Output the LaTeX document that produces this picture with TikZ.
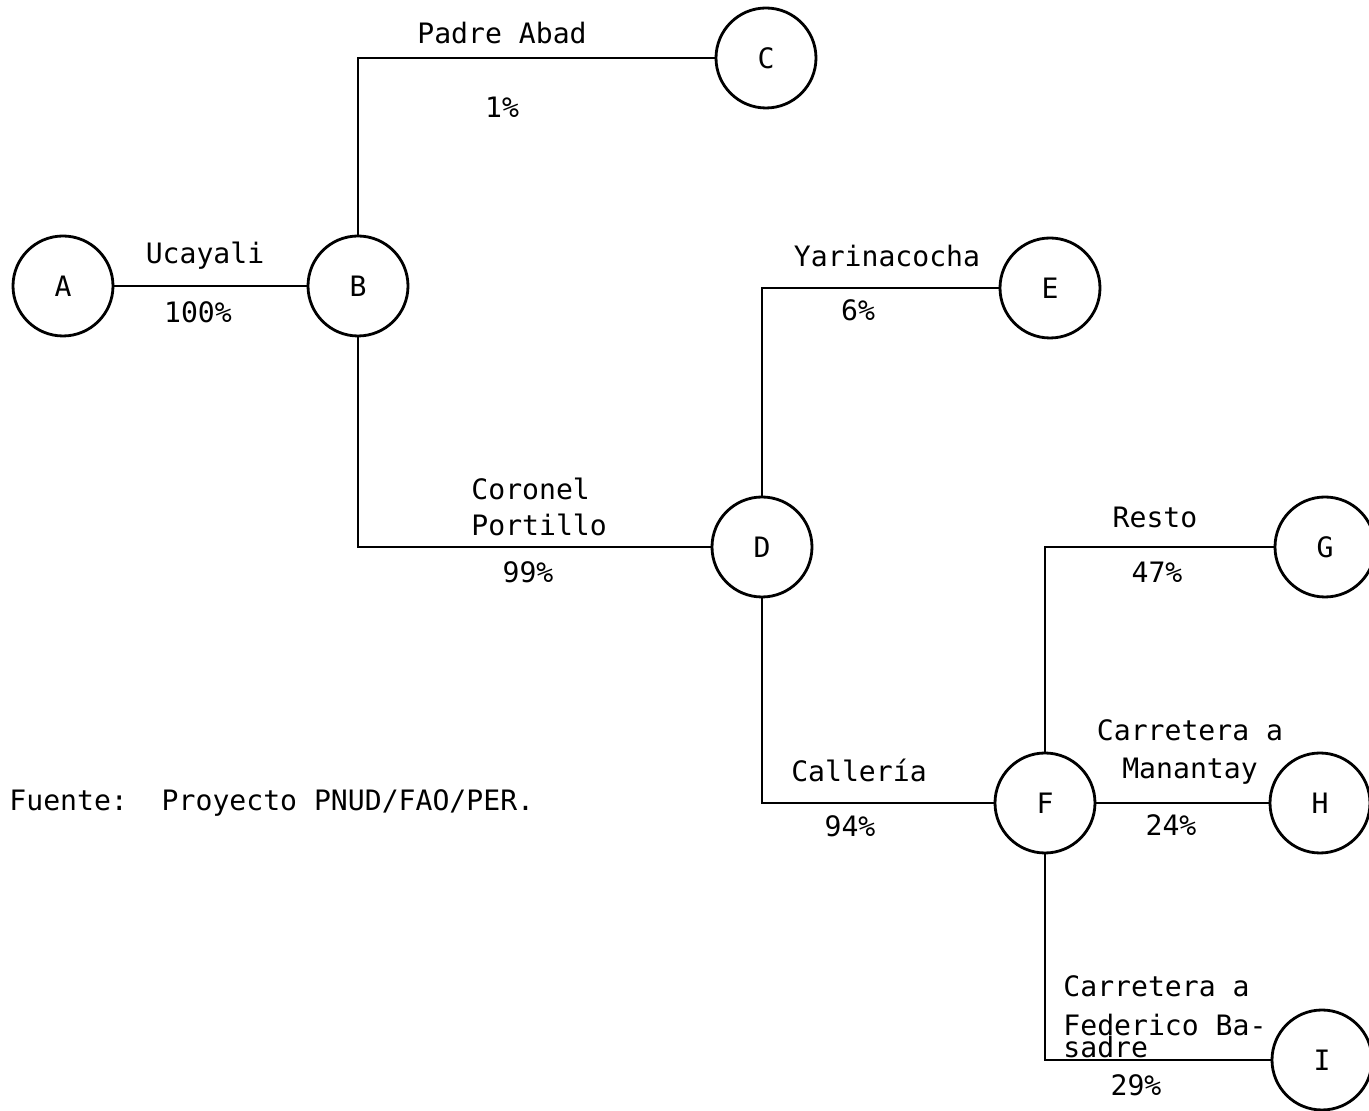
\documentclass[tikz,border=0pt]{standalone}
\usepackage{fontspec}
\setmainfont{DejaVu Sans Mono}

\begin{document}
\begin{tikzpicture}[x=0.1mm,y=-0.1mm,line width=0.8pt,
  site/.style={circle,draw,minimum size=10mm,inner sep=0pt,font=\fontsize{8}{10}\selectfont},
  lab/.style={inner sep=0pt,font=\fontsize{8}{10}\selectfont}]
\useasboundingbox (0,0) rectangle (1369,1111);
% districts
\foreach \n/\x/\y in {A/63/286,B/358/286,C/766/58,D/762/547,E/1050/288,
                      F/1045/803,G/1325/547,H/1320/803,I/1322/1060}
  { \node[site] (\n) at (\x,\y) {\n}; }
% branches
\draw (A) -- (B);
\draw (B.north) |- (C.west);
\draw (B.south) |- (D.west);
\draw (D.north) |- (E.west);
\draw (D.south) |- (F.west);
\draw (F.north) |- (G.west);
\draw (F) -- (H);
\draw (F.south) |- (I.west);
% shares
\node[lab] (padre) at (502,33) {Padre Abad};
\node[lab] (pcC) at (502,107) {1\%};
\node[lab] (ucayali) at (205,256) {Ucayali};
\node[lab] (pcB) at (198,312) {100\%};
\node[lab,anchor=west,align=left] (coronel) at (470,507) {Coronel\\Portillo};
\node[lab] (pcD) at (528,572) {99\%};
\node[lab] (yarina) at (887,256) {Yarinacocha};
\node[lab] (pcE) at (858,310) {6\%};
\node[lab] (resto) at (1155,517) {Resto};
\node[lab] (pcG) at (1157,572) {47\%};
\node[lab,align=center] (manantay) at (1190,752) {Carretera a\\[1pt]Manantay};
\node[lab] (pcH) at (1171,825) {24\%};
\node[lab] (calleria) at (859,770) {Callería};
\node[lab] (pcF) at (850,826) {94\%};
\node[lab,anchor=west,align=left] (basadre) at (1062,1017)
  {Carretera a\\[1pt]Federico Ba-\\[-3.5pt]sadre};
\node[lab] (pcI) at (1136,1085) {29\%};
\node[lab,anchor=west] (fuente) at (8,803) {Fuente:\ \ Proyecto PNUD/FAO/PER.};
\end{tikzpicture}
\end{document}
